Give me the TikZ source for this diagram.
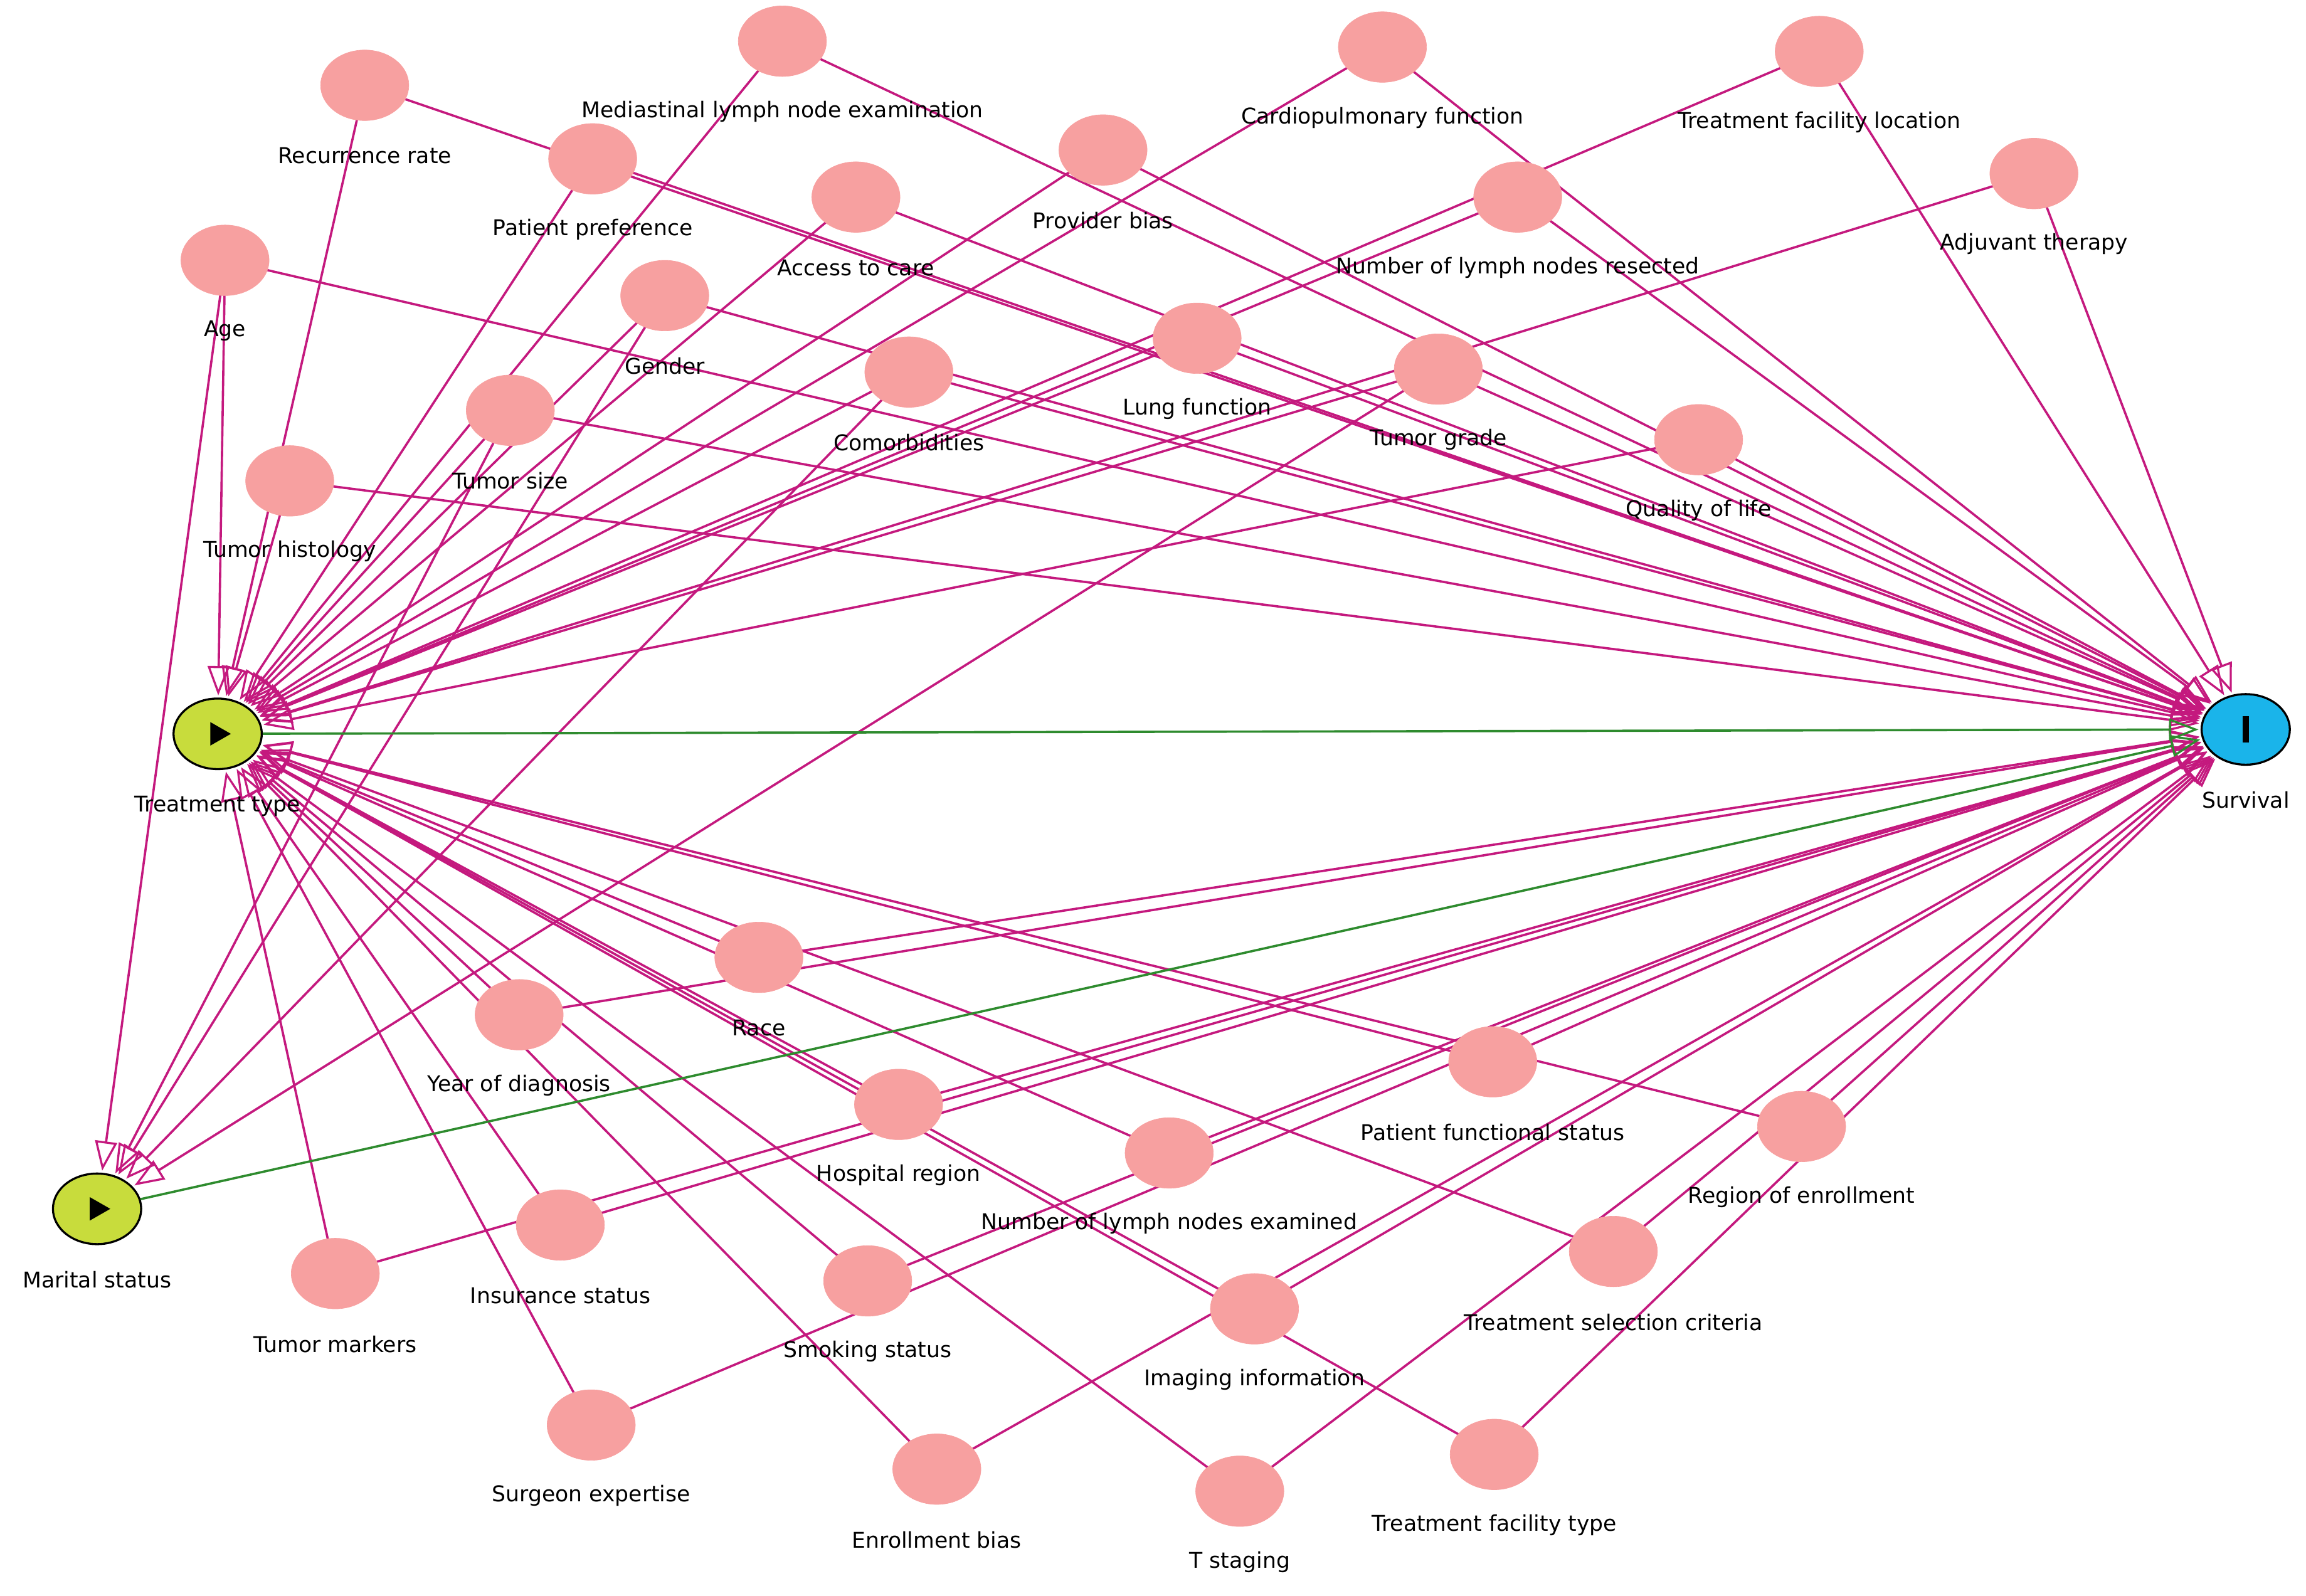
\documentclass[tikz,border=0pt]{standalone}
\usepackage{fontspec}
\setmainfont{DejaVu Sans}
\usetikzlibrary{shapes.geometric,arrows.meta}
\definecolor{pinkc}{HTML}{F7A0A0}
\definecolor{edgec}{HTML}{C4197E}
\definecolor{greenc}{HTML}{2E8B2E}
\definecolor{expc}{HTML}{C8DC3C}
\definecolor{outc}{HTML}{1AB4EA}
\begin{document}
\begin{tikzpicture}[x=0.05cm,y=-0.05cm,
 conf/.style={ellipse,fill=pinkc,draw=pinkc,minimum width=3cm,minimum height=2.4cm,inner sep=0},
 key/.style={ellipse,draw=black,line width=2pt,minimum width=3cm,minimum height=2.4cm,inner sep=0},
 lbl/.style={font=\fontsize{21}{24}\selectfont,inner sep=1pt},
 edge/.style={draw=edgec,line width=2.2pt,-{Triangle[open,length=1cm,width=0.75cm,line width=2pt]},shorten >=2pt},
 gedge/.style={draw=greenc,line width=2.2pt,-{Triangle[open,length=1cm,width=0.75cm,line width=2pt]},shorten >=2pt}]
\useasboundingbox (0,0) rectangle (1568,1085);
% confounders: name/x/y/label-x/label
\foreach \n/\x/\y/\t in {
 rr/248/58/Recurrence rate, ml/532/28/Mediastinal lymph node examination,
 cf/940/32/Cardiopulmonary function, tfl/1237/35/Treatment facility location,
 adj/1383/118/Adjuvant therapy, pp/403/108/Patient preference,
 pb/750/102/Provider bias, ac/582/134/Access to care,
 nlr/1032/134/Number of lymph nodes resected, age/153/177/Age,
 gen/452/201/Gender, lf/814/230/Lung function, com/618/253/Comorbidities,
 tg/978/251/Tumor grade, ts/347/279/Tumor size, ql/1155/299/Quality of life,
 th/197/327/Tumor histology, race/516/651/Race, yd/353/690/Year of diagnosis,
 pfs/1015/722/Patient functional status, hr/611/751/Hospital region,
 re/1225/766/Region of enrollment, nle/795/784/Number of lymph nodes examined,
 ins/381/833/Insurance status, tm/228/866/Tumor markers,
 tsc/1097/851/Treatment selection criteria, ss/590/871/Smoking status,
 ii/853/890/Imaging information, se/402/969/Surgeon expertise,
 eb/637/999/Enrollment bias, tft/1016/989/Treatment facility type,
 tst/843/1014/T staging}
 {\coordinate (p-\n) at (\x,\y);}
\node[key,fill=expc] (tt) at (148,499) {};
\node[key,fill=outc] (sv) at (1527,496) {};
\node[key,fill=expc] (ms) at (66,822) {};
% edges
\foreach \n in {rr,ml,cf,tfl,adj,pp,pb,ac,nlr,age,gen,lf,com,tg,ts,ql,th,race,yd,pfs,hr,re,nle,ins,tm,tsc,ss,ii,se,eb,tft,tst}
 {\draw[edge] (p-\n) -- (tt); \draw[edge] (p-\n) -- (sv);}
\foreach \n in {age,gen,ts,com,tg}
 {\draw[edge] (p-\n) -- (ms);}
\draw[gedge] (tt) -- (sv);
\draw[gedge] (ms) -- (sv);
% confounder nodes
\foreach \n/\x/\y/\t in {
 rr/248/58/Recurrence rate, ml/532/28/Mediastinal lymph node examination,
 cf/940/32/Cardiopulmonary function, tfl/1237/35/Treatment facility location,
 adj/1383/118/Adjuvant therapy, pp/403/108/Patient preference,
 pb/750/102/Provider bias, ac/582/134/Access to care,
 nlr/1032/134/Number of lymph nodes resected, age/153/177/Age,
 gen/452/201/Gender, lf/814/230/Lung function, com/618/253/Comorbidities,
 tg/978/251/Tumor grade, ts/347/279/Tumor size, ql/1155/299/Quality of life,
 th/197/327/Tumor histology, race/516/651/Race, yd/353/690/Year of diagnosis,
 pfs/1015/722/Patient functional status, hr/611/751/Hospital region,
 re/1225/766/Region of enrollment, nle/795/784/Number of lymph nodes examined,
 ins/381/833/Insurance status, tm/228/866/Tumor markers,
 tsc/1097/851/Treatment selection criteria, ss/590/871/Smoking status,
 ii/853/890/Imaging information, se/402/969/Surgeon expertise,
 eb/637/999/Enrollment bias, tft/1016/989/Treatment facility type,
 tst/843/1014/T staging}
 {\node[conf] (c-\n) at (\x,\y) {};
  \node[lbl] (l-\n) at (\x,\y+48) {\t};}
% key node glyphs and labels
\fill (tt.center) ++(-5,-8) -- ++(14,8) -- ++(-14,8) -- cycle;
\fill (ms.center) ++(-5,-8) -- ++(14,8) -- ++(-14,8) -- cycle;
\fill (sv.center) ++(-2,-9) rectangle ++(4,18);
\node[lbl] (l-tt) at (148,548) {Treatment type};
\node[lbl] (l-sv) at (1527,544) {Survival};
\node[lbl] (l-ms) at (66,870) {Marital status};
\end{tikzpicture}
\end{document}
